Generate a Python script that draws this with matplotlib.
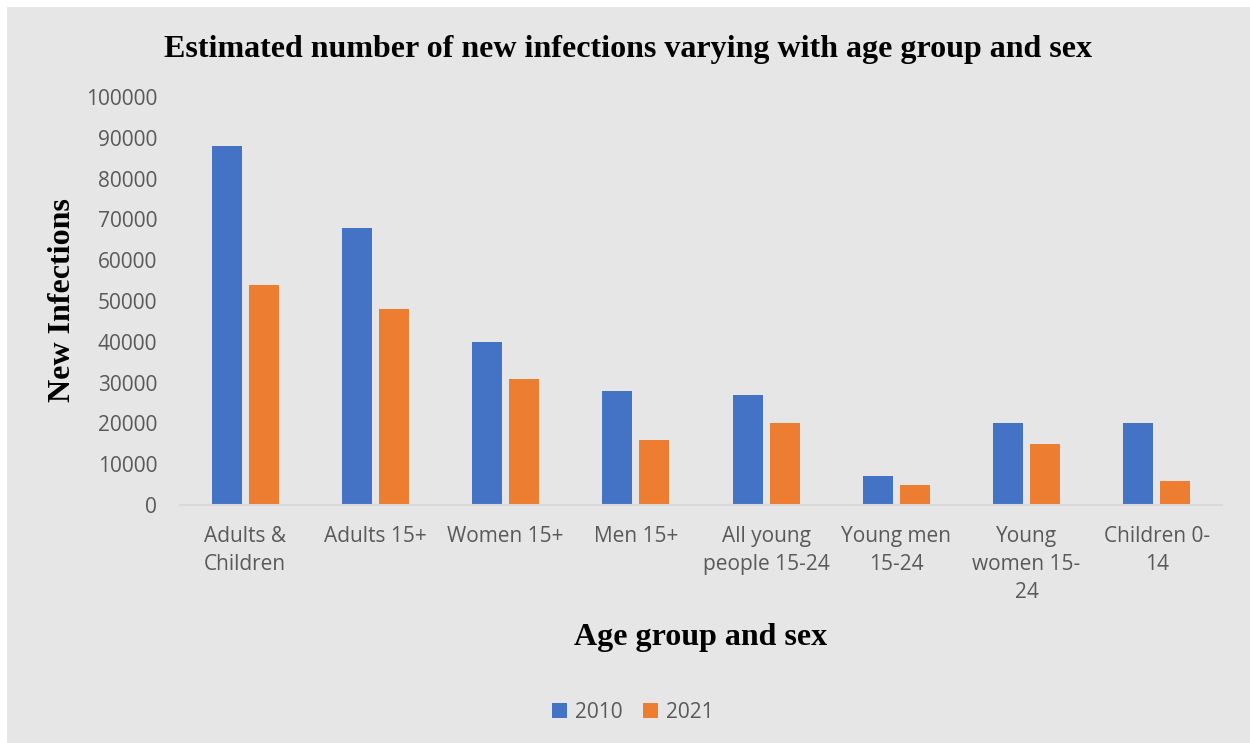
import matplotlib
matplotlib.use("Agg")
import matplotlib.pyplot as plt
import numpy as np
from matplotlib.patches import Rectangle

# Data.
categories = ["Adults &\nChildren", "Adults 15+", "Women 15+", "Men 15+",
              "All young\npeople 15-24", "Young men\n15-24", "Young\nwomen 15-\n24",
              "Children 0-\n14"]
values_2010 = [88000, 68000, 40000, 28000, 27000, 7000, 20000, 20000]
values_2021 = [54000, 48000, 31000, 16000, 20000, 5000, 15000, 6000]
yticks = [0, 10000, 20000, 30000, 40000, 50000, 60000, 70000, 80000, 90000, 100000]

bg = "#E6E6E6"
c2010 = "#4472C4"
c2021 = "#ED7D31"
txt = "#595959"
serif = "Liberation Serif"
sans = "Open Sans"

fig = plt.figure(figsize=(12.5, 7.43), dpi=100)
fig.patch.set_facecolor("white")
fig.add_artist(Rectangle((7 / 1250, 0), 1 - 7 / 1250, 1 - 7 / 743,
                         transform=fig.transFigure, facecolor=bg, edgecolor="none", zorder=-10))

ax = fig.add_axes([180 / 1250, 1 - 505 / 743, (1222 - 180) / 1250, (505 - 97) / 743])
ax.set_facecolor("none")

x = np.arange(len(categories))
w = 0.23
ax.bar(x - 0.142, values_2010, w, color=c2010, label="2010")
ax.bar(x + 0.142, values_2021, w, color=c2021, label="2021")

ax.set_xlim(-0.5, len(categories) - 0.5)
ax.set_ylim(0, 100000)
ax.set_yticks(yticks)
ax.set_yticklabels([str(v) for v in yticks], fontfamily=sans, fontsize=15, color=txt)
ax.set_xticks(x)
ax.set_xticklabels(categories, fontfamily=sans, fontsize=15, color=txt, linespacing=1.45)
ax.tick_params(axis="both", length=0)
ax.tick_params(axis="y", pad=16.5)
ax.tick_params(axis="x", pad=15)
for s in ["top", "right", "left"]:
    ax.spines[s].set_visible(False)
ax.spines["bottom"].set_color("#D9D9D9")
ax.spines["bottom"].set_linewidth(1.5)

fig.text(628 / 1250, 1 - 49 / 743, "Estimated number of new infections varying with age group and sex",
         ha="center", va="center", fontfamily=serif, fontweight="bold", fontsize=23)
fig.text(62 / 1250, 1 - 300 / 743, "New Infections", rotation=90, ha="center", va="center",
         fontfamily=serif, fontweight="bold", fontsize=23)
fig.text(701 / 1250, 1 - 637 / 743, "Age group and sex", ha="center", va="center",
         fontfamily=serif, fontweight="bold", fontsize=23)

leg = fig.legend(loc="center", bbox_to_anchor=(633 / 1250, 1 - 712 / 743), ncol=2,
                 frameon=False, prop={"family": sans, "size": 15},
                 handlelength=0.7, handleheight=0.7, handletextpad=0.4, columnspacing=1.0)
for t in leg.get_texts():
    t.set_color(txt)

fig.savefig("out.png", dpi=100, facecolor=fig.get_facecolor())
